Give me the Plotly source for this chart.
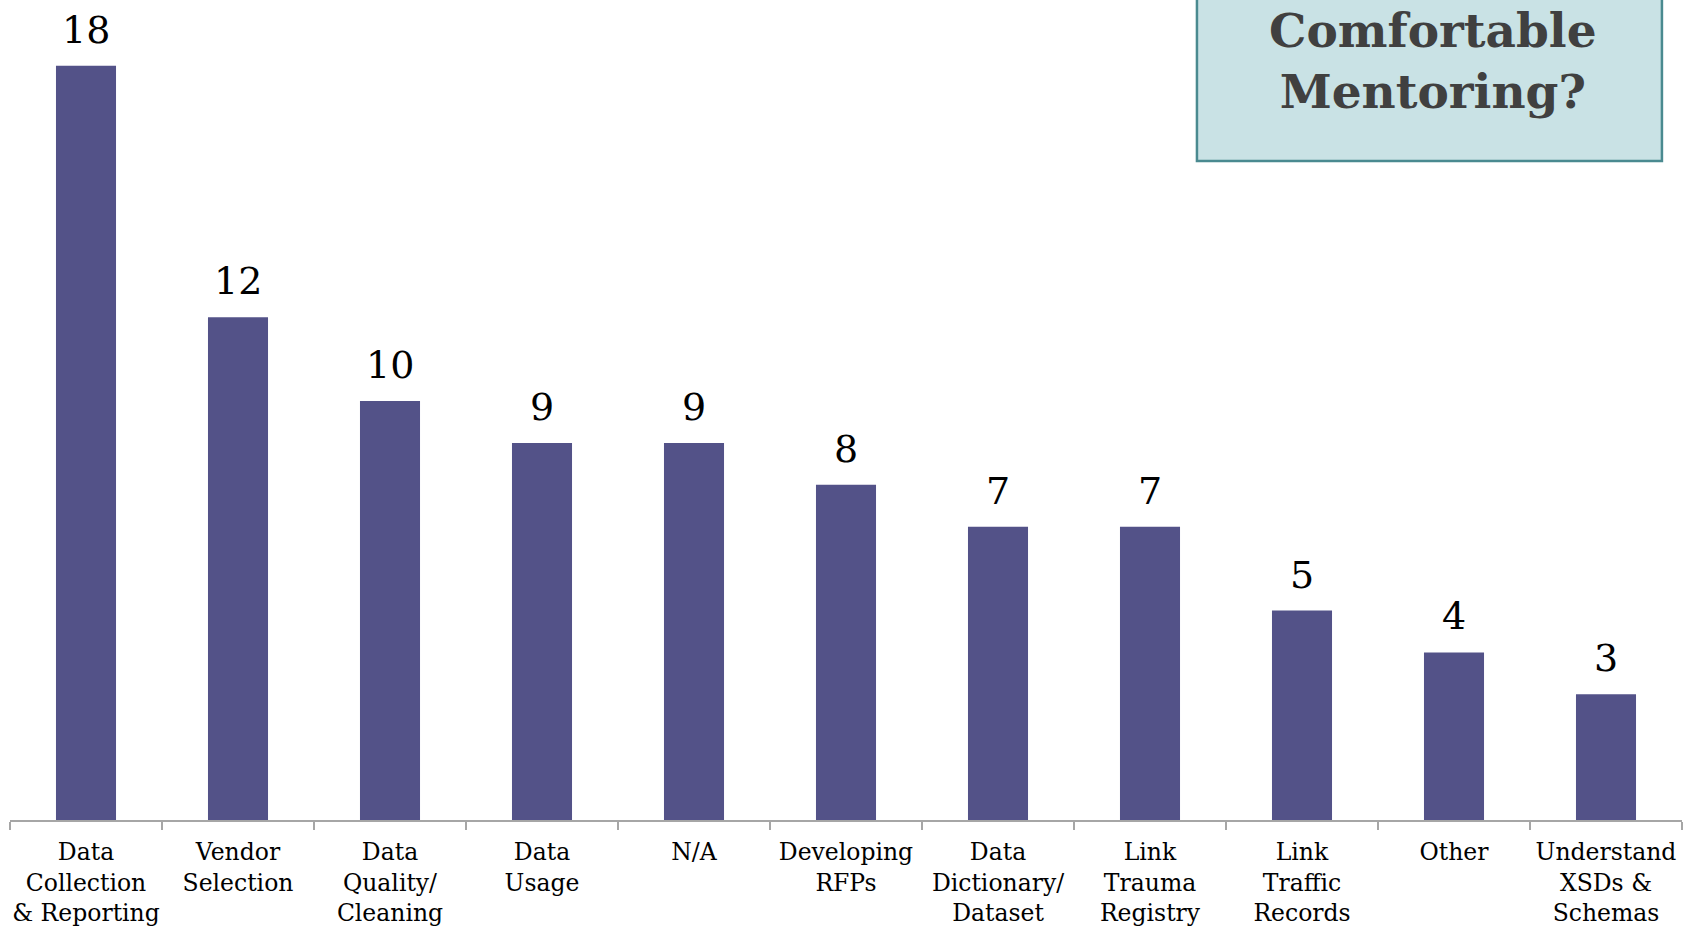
import plotly.graph_objects as go

# Data
categories = ["Data<br>Collection<br>& Reporting", "Vendor<br>Selection", "Data<br>Quality/<br>Cleaning",
              "Data<br>Usage", "N/A", "Developing<br>RFPs", "Data<br>Dictionary/<br>Dataset",
              "Link<br>Trauma<br>Registry", "Link<br>Traffic<br>Records", "Other",
              "Understand<br>XSDs &<br>Schemas"]
counts = [18, 12, 10, 9, 9, 8, 7, 7, 5, 4, 3]
title_text = "Comfortable<br>Mentoring?"

bar_color = '#535288'
serif = "Georgia, 'DejaVu Serif', serif"

fig = go.Figure()
fig.add_trace(go.Bar(x=categories, y=counts, marker_color=bar_color, marker_line_width=0))

# value labels above bars
for c, v in zip(categories, counts):
    fig.add_annotation(x=c, y=v, text=str(v), showarrow=False, yanchor='bottom', xanchor='center',
                       yshift=12, font=dict(family=serif, size=38, color='black'))

fig.update_layout(
    width=1696, height=931, autosize=False,
    paper_bgcolor='white', plot_bgcolor='white',
    margin=dict(l=10, r=14, t=0, b=111, autoexpand=False),
    bargap=0.605, showlegend=False,
    font=dict(family=serif, color='black'),
)
fig.update_xaxes(showline=True, linecolor='#A6A6A6', linewidth=2, ticks='outside', tickson='boundaries',
                 ticklen=8, tickcolor='#A6A6A6', tickwidth=2, automargin=False, ticklabelstandoff=10,
                 tickfont=dict(family=serif, size=23.5, color='black'), tickangle=0)
fig.update_yaxes(range=[0, 19.57], visible=False, showgrid=False, automargin=False)

# title box (runs off the top edge, like the slide)
fig.add_shape(type='rect', xref='paper', yref='paper', x0=0.7099, x1=0.988, y0=0.8037, y1=1.05,
              fillcolor='#C9E2E5', line=dict(color='#4A8A90', width=2.5), layer='above')
fig.add_annotation(xref='paper', yref='paper', x=0.851, y=0.925, xanchor='center', yanchor='middle',
                   text='<b>' + title_text + '</b>', showarrow=False,
                   font=dict(family=serif, size=47, color='#404040'), align='center')

# drop the default 8px body margin so the figure sits at the window corner
fig.write_html("out.html", config={'displayModeBar': False},
               post_script="document.body.style.margin='0px';")
